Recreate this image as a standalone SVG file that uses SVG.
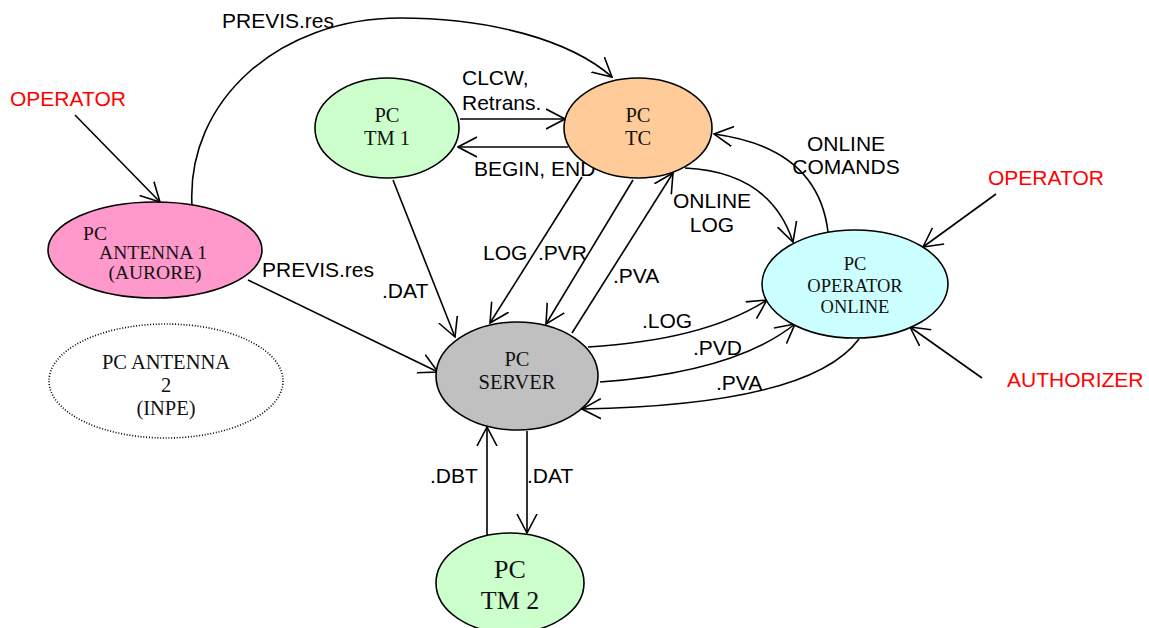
<svg xmlns="http://www.w3.org/2000/svg" width="1149" height="628" viewBox="0 0 1149 628">
<style>
.n{stroke:#000;stroke-width:1.6}
.t{font-family:"Liberation Serif","Times New Roman",serif;font-size:20.5px;fill:#111;text-anchor:middle}
.l{font-family:"Liberation Sans",Arial,sans-serif;font-size:21px;fill:#000}
.r{font-family:"Liberation Sans",Arial,sans-serif;font-size:21px;fill:#ff0000}
.c{fill:none;stroke:#000;stroke-width:1.6;marker-end:url(#a)}
</style>
<defs>
<marker id="a" viewBox="0 0 20 22" refX="19" refY="11" markerWidth="20" markerHeight="22" markerUnits="userSpaceOnUse" orient="auto">
<path d="M0,1 L19,11 L0,21" fill="none" stroke="#000" stroke-width="1.6"/>
</marker>
</defs>
<rect width="1149" height="628" fill="#fff"/>
<g id="connectors">
<path class="c" d="M75,115 L160,202"/>
<path class="c" d="M192,206 C186,100 280,18 400,18 C490,18 570,40 612,77"/>
<path class="c" d="M460,119 L565,119"/>
<path class="c" d="M568,147 L458,147"/>
<path class="c" d="M393,180 L455,337"/>
<path class="c" d="M248,280 L438,372"/>
<path class="c" d="M582,177 L490,323"/>
<path class="c" d="M633,180 L546,324"/>
<path class="c" d="M572,333 L673,173"/>
<path class="c" d="M685,168 Q770,172 793,242"/>
<path class="c" d="M828,232 Q818,148 714,134"/>
<path class="c" d="M588,347 Q705,340 767,300"/>
<path class="c" d="M600,382 Q735,372 795,324"/>
<path class="c" d="M859,339 Q810,405 582,409"/>
<path class="c" d="M996,194 L923,247"/>
<path class="c" d="M982,378 L910,327"/>
<path class="c" d="M487,535 L487,427"/>
<path class="c" d="M527,431 L527,533"/>
</g>
<g id="labels">
<text class="l" x="222" y="28">PREVIS.res</text>
<text class="r" x="10" y="106">OPERATOR</text>
<text class="l" x="262" y="277">PREVIS.res</text>
<text class="l" x="462" y="85">CLCW,</text>
<text class="l" x="462" y="110">Retrans.</text>
<text class="l" x="474" y="176">BEGIN, END</text>
<text class="l" x="483" y="260">LOG</text>
<text class="l" x="538" y="260">.PVR</text>
<text class="l" x="613" y="283">.PVA</text>
<text class="l" x="382" y="298">.DAT</text>
<text class="l" x="712" y="208" text-anchor="middle">ONLINE</text>
<text class="l" x="712" y="232" text-anchor="middle">LOG</text>
<text class="l" x="846" y="151" text-anchor="middle">ONLINE</text>
<text class="l" x="846" y="174" text-anchor="middle">COMANDS</text>
<text class="r" x="988" y="185">OPERATOR</text>
<text class="r" x="1007" y="387">AUTHORIZER</text>
<text class="l" x="642" y="328">.LOG</text>
<text class="l" x="693" y="355">.PVD</text>
<text class="l" x="716" y="390">.PVA</text>
<text class="l" x="430" y="483">.DBT</text>
<text class="l" x="527" y="483">.DAT</text>
</g>
<g id="pc-tm1">
<ellipse class="n" cx="387" cy="128" rx="72" ry="50" fill="#ccffcc"/>
<text class="t" x="387" y="122">PC</text>
<text class="t" x="387" y="145">TM 1</text>
</g>
<g id="pc-tc">
<ellipse class="n" cx="638" cy="128" rx="74" ry="50" fill="#ffcc99"/>
<text class="t" x="638" y="122">PC</text>
<text class="t" x="638" y="145">TC</text>
</g>
<g id="pc-antenna1">
<ellipse class="n" cx="155" cy="250" rx="107" ry="48" fill="#ff99cc"/>
<text class="t" x="95" y="240" text-anchor="start" style="font-size:19.5px">PC</text>
<text class="t" x="153" y="259" style="font-size:19.5px">ANTENNA 1</text>
<text class="t" x="155" y="279" style="font-size:19.5px">(AURORE)</text>
</g>
<g id="pc-antenna2">
<ellipse cx="166" cy="381" rx="117" ry="57" fill="#fff" stroke="#000" stroke-width="1.6" stroke-dasharray="1 1.8"/>
<text class="t" x="166" y="369">PC ANTENNA</text>
<text class="t" x="166" y="392">2</text>
<text class="t" x="166" y="415">(INPE)</text>
</g>
<g id="pc-server">
<ellipse class="n" cx="517" cy="376" rx="81" ry="54" fill="#c0c0c0"/>
<text class="t" x="517" y="366">PC</text>
<text class="t" x="517" y="389">SERVER</text>
</g>
<g id="pc-operator-online">
<ellipse class="n" cx="855" cy="284" rx="93" ry="54" fill="#ccffff"/>
<text class="t" x="855" y="270" style="font-size:18.5px">PC</text>
<text class="t" x="855" y="292" style="font-size:18.5px">OPERATOR</text>
<text class="t" x="855" y="313" style="font-size:18.5px">ONLINE</text>
</g>
<g id="pc-tm2">
<ellipse class="n" cx="510" cy="583" rx="74" ry="50" fill="#ccffcc"/>
<text class="t" x="510" y="578" style="font-size:26px">PC</text>
<text class="t" x="510" y="609" style="font-size:26px">TM 2</text>
</g>
</svg>
